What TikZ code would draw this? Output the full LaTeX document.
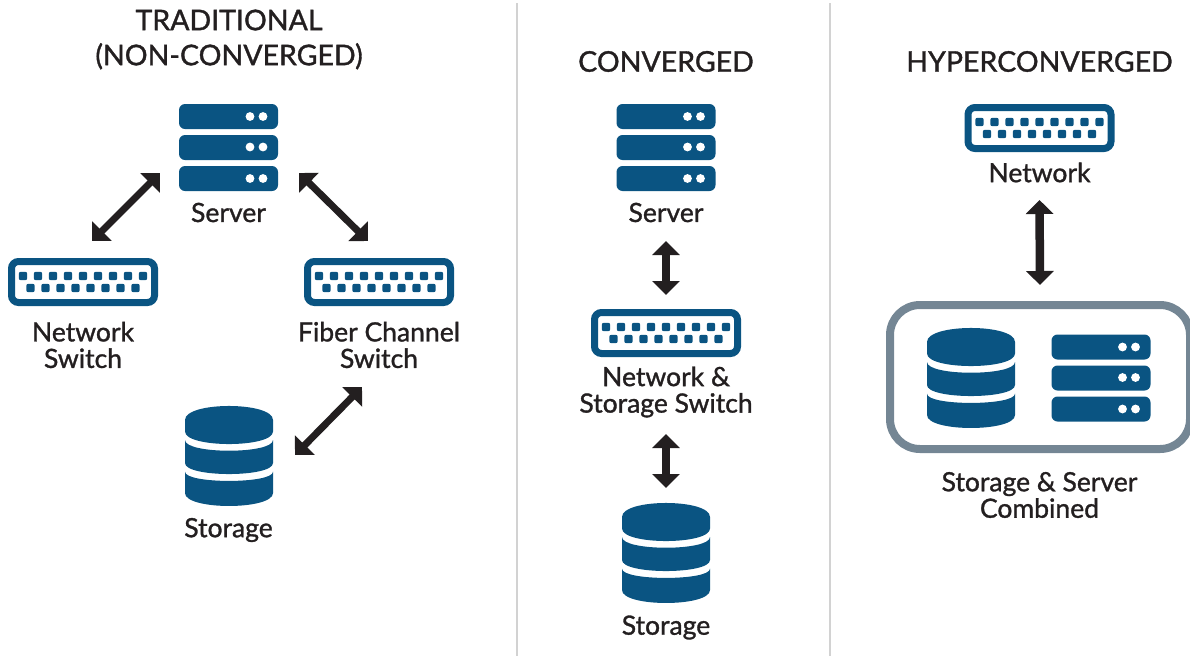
\documentclass[tikz,border=0pt]{standalone}
\usepackage{fontspec}
\setmainfont{Lato}[RawFeature={embolden=1.2}]
\usetikzlibrary{arrows.meta}
\definecolor{iconblue}{HTML}{0A5482}
\definecolor{boxgray}{HTML}{748694}
\definecolor{arrowblack}{HTML}{231F20}
\definecolor{rulegray}{HTML}{D2D2D2}
\tikzset{
  iconbox/.style={inner sep=0, outer sep=0, minimum width=#1},
  label/.style={align=center, text=arrowblack, font=\fontsize{26.5}{26.5}\selectfont},
  heading/.style={align=center, text=arrowblack, font=\fontsize{28.5}{35}\selectfont},
  duplex/.style={arrowblack, line width=7, {Triangle[length=14, width=27]}-{Triangle[length=14, width=27]}},
  serverpic/.pic={
    \foreach \top/\dot in {-43.5/-31, -12.5/-0.5, 18.5/31} {
      \fill[iconblue, rounded corners=6] (-49.5, \top) rectangle (49.5, \top+25);
      \fill[white] (21.5, \dot) circle (4.4);
      \fill[white] (34.5, \dot) circle (4.4);
    }
  },
  switchpic/.pic={
    \draw[iconblue, line width=7, rounded corners=7] (-71.5, -20.5) rectangle (71.5, 20.5);
    \foreach \i in {-4,...,4}
      \fill[iconblue, rounded corners=2] (\i*15-4.2, -10.2) rectangle (\i*15+4.2, -1.8);
    \foreach \i in {-3.5,-2.5,...,3.5}
      \fill[iconblue, rounded corners=2] (\i*15-4.2, 1.8) rectangle (\i*15+4.2, 10.2);
  },
  storagepic/.pic={
    \fill[iconblue] (-44, -36) .. controls (-44, -54.7) and (44, -54.7) .. (44, -36)
      -- (44, -24.5) .. controls (44, -7.8) and (-44, -7.8) .. (-44, -24.5) -- cycle;
    \fill[iconblue] (-44, -16) .. controls (-44, -1.7) and (44, -1.7) .. (44, -16)
      -- (44, 7) .. controls (44, 21.7) and (-44, 21.7) .. (-44, 7) -- cycle;
    \fill[iconblue] (-44, 15.7) .. controls (-44, 28) and (44, 28) .. (44, 15.7)
      -- (44, 37) .. controls (44, 54.3) and (-44, 54.3) .. (-44, 37) -- cycle;
  }
}
\begin{document}
\begin{tikzpicture}[x=1pt, y=-1pt]
\useasboundingbox (0, 0) rectangle (1190, 656);
\draw[rulegray, line width=2] (516.5, 3) -- (516.5, 656);
\draw[rulegray, line width=2] (830, 3) -- (830, 656);

\node[heading] (headA) at (229, 39.5) {TRADITIONAL\\(NON-CONVERGED)};
\node[heading] (headB) at (666, 61.5) {CONVERGED};
\node[heading] (headC) at (1039.5, 61.5) {HYPERCONVERGED};

\foreach \name/\px/\py in {srvA/228.5/147.5, srvB/666/147.5, srvC/1101/378}
  \node[iconbox=99, minimum height=87] (\name) at (\px, \py) {};
\foreach \name in {srvA, srvB, srvC}
  \pic at (\name) {serverpic};
\foreach \name/\px/\py in {swA/83/282, swB/379/282, swC/666/333, swD/1039.5/128}
  \node[iconbox=150, minimum height=48] (\name) at (\px, \py) {};
\foreach \name in {swA, swB, swC, swD}
  \pic at (\name) {switchpic};
\foreach \name/\px/\py in {stoA/229/456, stoB/666/553, stoC/971/378}
  \node[iconbox=88, minimum height=100] (\name) at (\px, \py) {};
\foreach \name in {stoA, stoB, stoC}
  \pic at (\name) {storagepic};

\node[label] (srvAtext) at (228.5, 212.5) {Server};
\node[label] (swAtext) at (83, 345) {Network\\Switch};
\node[label] (swBtext) at (379, 345) {Fiber Channel\\Switch};
\node[label] (stoAtext) at (228.5, 530) {Storage};
\node[label] (srvBtext) at (666, 212.5) {Server};
\node[label] (swCtext) at (666, 392) {Network \&\\Storage Switch};
\node[label] (stoBtext) at (666, 627.5) {Storage};
\node[label] (swDtext) at (1039.5, 172.5) {Network};
\node[label] (comboText) at (1039.5, 495) {Storage \& Server\\Combined};

\node[draw=boxgray, line width=8, rounded corners=30, inner sep=0, minimum width=300, minimum height=144] (combo) at (1040, 377) {};

\draw[duplex] ([shift={(-19,-18)}]srvA.south west) -- ([shift={(9,-17)}]swA.north);
\draw[duplex] ([shift={(21,-18)}]srvA.south east) -- ([shift={(-11,-17)}]swB.north);
\draw[duplex] ([shift={(-17,81)}]swB.south) -- ([shift={(22,-1)}]stoA.east);
\draw[duplex, line width=8.5] ([shift={(0,50)}]srvB.south) -- ([shift={(0,-14)}]swC.north);
\draw[duplex, line width=8.5] ([shift={(0,77)}]swC.south) -- ([shift={(0,-15)}]stoB.north);
\draw[duplex, line width=8.5] ([shift={(0,48)}]swD.south) -- ([shift={(0,-16)}]combo.north);
\end{tikzpicture}
\end{document}
